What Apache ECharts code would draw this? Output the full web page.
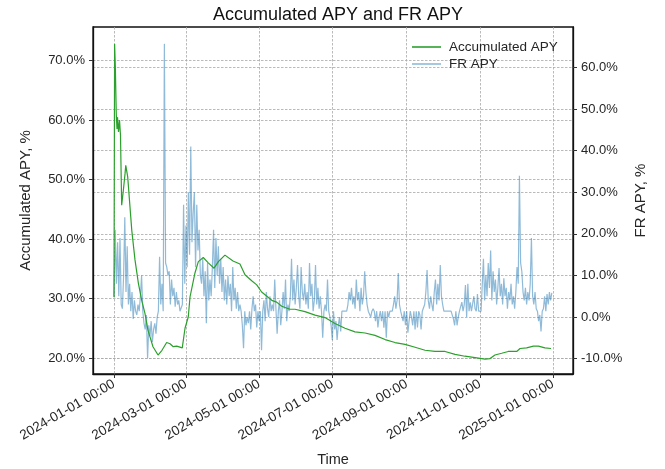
<!DOCTYPE html>
<html><head><meta charset="utf-8">
<script src="https://cdn.jsdelivr.net/npm/echarts@6/dist/echarts.min.js"></script>
<style>html,body{margin:0;padding:0;background:#fff}#c{width:665px;height:469px}</style>
</head><body><div id="c"></div>
<script>
// ---- data ----
const startDate = '2024-01-01';
// daily FR APY, %
const frValues = [
4.9,21,8,18,5,19,3,
2,10,24,6,17,
3,8,1.4,6,-0.5,4,1.4,0.5,3,1.4,5,10,1.4,
-1.5,-3,0.5,-9.9,-2,-4.5,-1,-6,-3,-1.5,-4,0,1.4,
14.5,3,8,1.4,65.7,13,12,10,11,3,9,5,7,2.5,6,3,4,1.4,1.4,3,
27,8,22,12,30,15,41,18,25,30,12,27,16,21,10,
8,14,5,11,-1.5,13,4,9,5,12,21,7,
19,10,17,8,14,6,12,4,9,
3,10,5,8,1.4,12,4,7,2,6,1.4,3,1.4,-2,
-7.5,1.4,-2,0,-1.5,1.4,-3,2,5,1.4,3,-2.5,1.4,-1,1.4,-8,
1.4,4,-1,6,2,0,5,1.4,3,1.4,9,2,-4,1.4,4,-2,1.4,6,2,9,-1,3,1.4,5,
14,4,9,3,7,12.5,5,2,12,6,4,8,3,6,2,13,5,8,1.4,4,12.5,3,7,2,5,1.4,-5,1.4,3,1.4,9,
1.4,0,-2,-5.5,1.4,-3,-1,-5.5,-2,0,-3.5,1.4,1.4,1.4,1.4,1.4,3,6,4,7,
3,5,2,9,4,6,1.4,7,3,5,11,6,3,1.4,1.4,0,1.4,2,1.4,
-1,1.4,-2.5,0,1.4,-1,1.4,-2.6,1.4,-5,1.4,0,1.4,1.4,
1.4,3,5,2,4,10.6,3,1.4,1.4,
-1,1.4,-2,1.4,-3.8,-1,1.4,0,-2,1.4,-3,1.4,-2.5,1.4,0.5,-3,1.4,1.4,
3,6,11.3,4,2,5,3,1.4,6,9,3,8,4,12.5,5,3,
1.4,1.4,1.4,1.4,1.4,1.4,1.4,1.4,-0.5,-2,1.4,-2,0,1.4,1.4,
3.6,1.4,3,7.7,0,8,1.4,3.5,1.4,1.4,5,2,1.4,5.5,1.4,1.4,1.4,1.4,
14,4,10,5,13,7,16,4,11,6,9,3,7,11.8,5,8,3,9.3,5,7,2,6,4,8,3,5,2,6,
12,8,34,13,11,6,4,7,3,6,4,8,19,5,3,6,2,1.4,
-1,0.5,-3.5,1.4,2,5,1.4,5.5,3,6,4,5.8
];
// accumulated APY: day offset from startDate, value %
const accDays = [0,0.5,1.1,1.9,2.5,2.9,3.75,4.6,5.4,6.4,
7.8,9.2,9.8,10.6,11.4,14.8,17.5,20.3,23.1,25.8,
28.3,32.5,36.7,38.3,40,43.9,46.7,49.4,52.3,56.9,
59.2,61.9,63.4,67.5,70.3,74.4,78.6,83.4,87,92.5,
99.2,105,109.2,114.8,119,123.1,131.5,135.6,139.8,146.7,
150.9,159.2,167.6,175.9,184.2,192.6,200.9,209.3,217.6,226,
234.3,242.6,251,259.3,267.6,276,284.3,292.6,301,309.3,
313.5,317.6,323.2,328.7,335.7,338.5,344,349.6,353.8,359.3,
364.3];
const accValues = [30.2,72.8,69.0,61.0,58.5,60.5,58.0,60.0,57.5,45.7,
48.2,51.0,52.4,52.3,50.5,41.5,36.5,32.6,29.7,27.5,
24.7,21.9,20.5,20.4,21.3,22.6,22.4,21.9,22.0,21.7,
25.0,26.9,30.3,34.3,36.2,36.9,36.0,35.1,36.2,37.3,
36.3,35.8,34.0,33.0,32.3,31.1,29.7,29.4,28.7,28.2,
28.2,27.8,27.2,26.8,25.8,25.0,24.4,24.2,23.8,23.1,
22.6,22.3,21.8,21.3,21.1,21.1,20.6,20.3,20.06,19.8,
19.9,20.5,20.8,21.1,21.1,21.6,21.7,22.0,22.0,21.7,
21.6];
const leftTicks = [20,30,40,50,60,70];
const rightTicks = [-10,0,10,20,30,40,50,60];
const xTickDates = ['2024-01-01','2024-03-01','2024-05-01','2024-07-01','2024-09-01','2024-11-01','2025-01-01'];

// ---- build ----
const DAY = 86400000;
const t0 = Date.parse(startDate + 'T00:00:00Z');
const frData = frValues.map((v, i) => [t0 + i * DAY, v]);
const accData = accDays.map((d, i) => [t0 + d * DAY, accValues[i]]);
const xTicks = xTickDates.map(s => Date.parse(s + 'T00:00:00Z'));
const pad = n => String(n).padStart(2, '0');
const fmtDate = v => { const d = new Date(v); return d.getUTCFullYear() + '-' + pad(d.getUTCMonth() + 1) + '-' + pad(d.getUTCDate()) + ' 00:00'; };

const FONT = 'Liberation Sans';
const TXT = '#262626';
const grid = { color: '#a8a8a8', width: 0.8, type: [2.5, 1.5] };

const chart = echarts.init(document.getElementById('c'), null, { renderer: 'canvas' });
chart.setOption({
  animation: false,
  backgroundColor: '#fff',
  textStyle: { fontFamily: FONT },
  title: {
    text: 'Accumulated APY and FR APY', left: 333, top: 1, textAlign: 'center',
    textStyle: { fontFamily: FONT, fontSize: 18, fontWeight: 'normal', color: '#111' }
  },
  legend: {
    orient: 'vertical', left: 407, top: 35, itemWidth: 29, itemHeight: 1.6, itemGap: 3,
    icon: 'rect',
    textStyle: { fontFamily: FONT, fontSize: 13.5, color: TXT, padding: [0, 0, 0, 3] },
    data: ['Accumulated APY', 'FR APY']
  },
  grid: { left: 93, right: 92, top: 27, bottom: 95, outerBoundsMode: 'none', containLabel: false, show: true, borderColor: '#111', borderWidth: 1.3, backgroundColor: 'transparent' },
  xAxis: {
    type: 'value', min: t0 - 17.51 * DAY, max: t0 + 382.66 * DAY,
    name: 'Time', nameLocation: 'middle', nameGap: 78,
    nameTextStyle: { fontFamily: FONT, fontSize: 14.5, color: TXT },
    axisLine: { onZero: false, lineStyle: { color: '#111', width: 1.3 } },
    axisTick: { customValues: xTicks, length: 4, lineStyle: { color: '#333' } },
    axisLabel: { customValues: xTicks, formatter: fmtDate, rotate: 30, margin: 9, fontSize: 13.6, fontFamily: FONT, color: TXT },
    splitLine: { show: true, lineStyle: grid }
  },
  yAxis: [{
    type: 'value', position: 'left', min: 17.31, max: 75.66,
    name: 'Accumulated APY, %', nameLocation: 'middle', nameGap: 60, nameRotate: 90,
    nameTextStyle: { fontFamily: FONT, fontSize: 15, color: TXT },
    axisLine: { show: true, onZero: false, lineStyle: { color: '#111', width: 1.3 } },
    axisTick: { show: true, customValues: leftTicks, length: 4, lineStyle: { color: '#333' } },
    axisLabel: { customValues: leftTicks, formatter: v => v.toFixed(1) + '%', margin: 8, fontSize: 13, fontFamily: FONT, color: TXT },
    splitLine: { show: true, lineStyle: grid }
  }, {
    type: 'value', position: 'right', min: -13.71, max: 69.76,
    name: 'FR APY, %', nameLocation: 'middle', nameGap: 56, nameRotate: 90,
    nameTextStyle: { fontFamily: FONT, fontSize: 15, color: TXT },
    axisLine: { show: true, onZero: false, lineStyle: { color: '#111', width: 1.3 } },
    axisTick: { show: true, customValues: rightTicks, length: 4, lineStyle: { color: '#333' } },
    axisLabel: { customValues: rightTicks, formatter: v => v.toFixed(1) + '%', margin: 8, fontSize: 13, fontFamily: FONT, color: TXT },
    splitLine: { show: true, lineStyle: grid }
  }],
  series: [{
    name: 'Accumulated APY', type: 'line', yAxisIndex: 0, data: accData,
    showSymbol: false, symbol: 'none', z: 3,
    lineStyle: { color: '#2ca02c', width: 1.2 }, itemStyle: { color: '#2ca02c' }
  }, {
    name: 'FR APY', type: 'line', yAxisIndex: 1, data: frData,
    showSymbol: false, symbol: 'none', z: 2,
    lineStyle: { color: 'rgba(31,119,180,0.5)', width: 1.2 }, itemStyle: { color: 'rgba(31,119,180,0.5)' }
  }]
});
</script></body></html>
